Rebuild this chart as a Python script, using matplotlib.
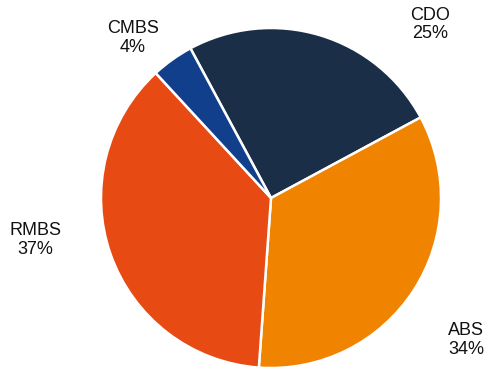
import matplotlib.pyplot as plt

labels = ["CDO", "ABS", "RMBS", "CMBS"]
shares = [25, 34, 37, 4]
colors = ["#1b2e48", "#f08300", "#e84a14", "#123f8c"]
# label positions (pie radius = 1)
label_pos = [(0.935, 1.02), (1.147, -0.835), (-1.388, -0.247), (-0.812, 0.941)]

plt.rcParams['font.family'] = ['Liberation Sans', 'DejaVu Sans']

fig = plt.figure(figsize=(4.88, 3.72), dpi=100)
ax = fig.add_axes([0, 0, 1, 1])

ax.pie(shares, colors=colors, startangle=118.3, counterclock=False,
       radius=1, wedgeprops=dict(edgecolor="white", linewidth=1.8))

for name, val, (x, y) in zip(labels, shares, label_pos):
    ax.text(x, y, f"{name}\n{val}%", ha="center", va="center",
            fontsize=13, linespacing=1.1, color="#111111")

ax.set_xlim(-271 / 170, 217 / 170)
ax.set_ylim(-174 / 170, 198 / 170)
ax.set_aspect("equal")
ax.axis("off")

fig.savefig("out.png", dpi=100)
